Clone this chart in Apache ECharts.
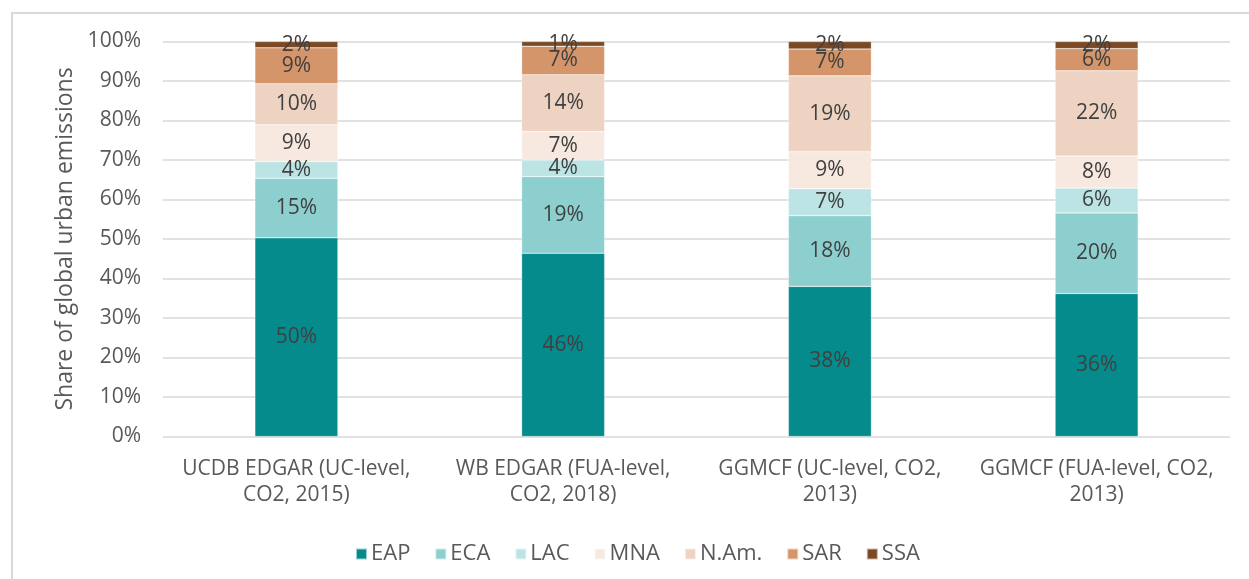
<!DOCTYPE html>
<html>
<head>
<meta charset="utf-8">
<script src="https://cdn.jsdelivr.net/npm/echarts@6/dist/echarts.min.js"></script>
<style>
  html, body { margin: 0; padding: 0; background: #fff; }
  #chart { position: absolute; left: 0; top: 0; width: 1249px; height: 579px; }
  #frame { position: absolute; left: 11px; top: 12px; right: 0; bottom: 0;
           border-left: 2px solid #d9d9d9; border-top: 2px solid #d9d9d9; pointer-events: none; }
</style>
</head>
<body>
<div id="chart"></div>
<div id="frame"></div>
<script>
// categories (datasets)
const categories = [
    "UCDB EDGAR (UC-level,\nCO2, 2015)",
    "WB EDGAR (FUA-level,\nCO2, 2018)",
    "GGMCF (UC-level, CO2,\n2013)",
    "GGMCF (FUA-level, CO2,\n2013)"
];
const regions = ["EAP", "ECA", "LAC", "MNA", "N.Am.", "SAR", "SSA"];
const colors = ["#058b8c", "#8dcecf", "#bde4e4", "#f7e9e0", "#eed3c2", "#d4956a", "#7b4a25"];

// share of global urban emissions, % (one array per region)
const eap  = [50.3, 46.4, 38.0, 36.2];
const eca  = [15.1, 19.4, 17.9, 20.4];
const lac  = [4.2, 4.2, 6.8, 6.3];
const mna  = [9.3, 7.2, 9.4, 8.1];
const nam  = [10.4, 14.4, 19.2, 21.6];
const sar  = [9.1, 7.2, 6.8, 5.6];
const ssa  = [1.6, 1.2, 1.9, 1.8];
const seriesValues = [eap, eca, lac, mna, nam, sar, ssa];

const yTicks = [0, 10, 20, 30, 40, 50, 60, 70, 80, 90, 100];

const font = "'Open Sans', Roboto, sans-serif";

const chart = echarts.init(document.getElementById("chart"));

const series = regions.map((name, i) => ({
    name: name,
    type: "bar",
    stack: "total",
    barWidth: 83,
    data: seriesValues[i],
    itemStyle: { color: colors[i], borderColor: "rgba(255,255,255,0.6)", borderWidth: 0.5 },
    label: {
        show: true,
        position: "inside",
        color: "#404040",
        fontFamily: font,
        fontSize: 21,
        formatter: p => Math.round(p.value) + "%"
    }
}));

chart.setOption({
    animation: false,
    color: colors,
    grid: { left: 163, right: 19, top: 41.5, bottom: 142.5 },
    legend: {
        data: regions,
        left: 350,
        top: 538,
        itemWidth: 11,
        itemHeight: 11,
        itemGap: 24,
        icon: "rect",
        textStyle: { color: "#595959", fontFamily: font, fontSize: 22, padding: [0, 0, 0, -1] }
    },
    xAxis: {
        type: "category",
        data: categories,
        axisLine: { show: false },
        axisTick: { show: false },
        axisLabel: {
            color: "#595959",
            fontFamily: font,
            fontSize: 21,
            lineHeight: 26,
            margin: 20,
            interval: 0
        }
    },
    yAxis: {
        type: "value",
        min: yTicks[0],
        max: yTicks[yTicks.length - 1],
        interval: 10,
        name: "Share of global urban emissions",
        nameLocation: "middle",
        nameGap: 86,
        nameTextStyle: { color: "#595959", fontFamily: font, fontSize: 23 },
        axisLine: { show: false },
        axisTick: { show: false },
        axisLabel: {
            color: "#595959",
            fontFamily: font,
            fontSize: 21,
            margin: 22,
            formatter: v => v + "%"
        },
        splitLine: { lineStyle: { color: "#d9d9d9", width: 1.5 } }
    },
    series: series
});
</script>
</body>
</html>
